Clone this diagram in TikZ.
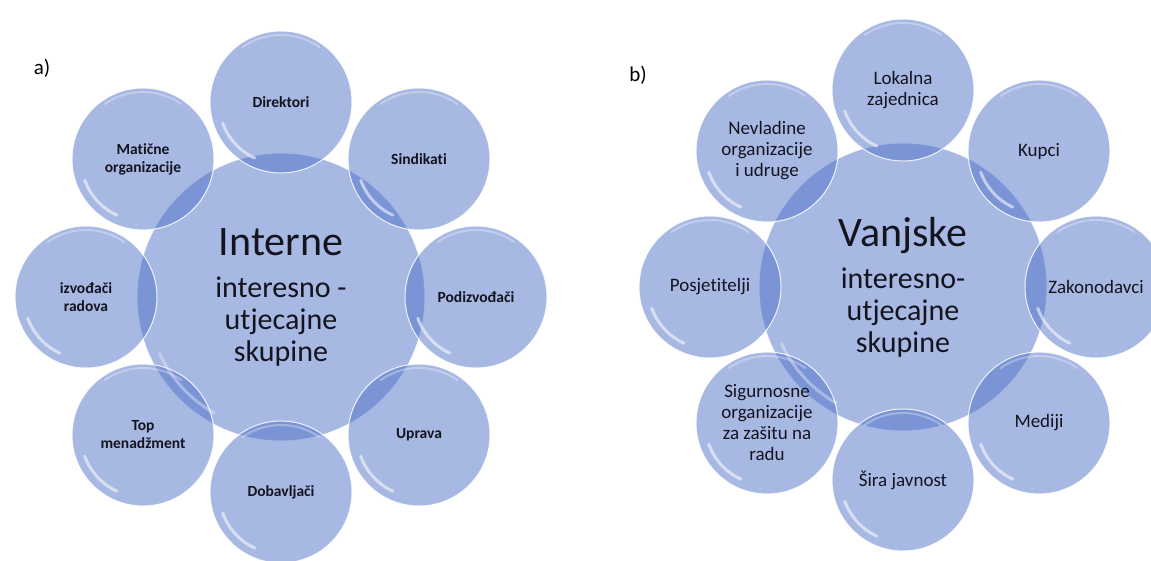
\documentclass[tikz,border=0pt]{standalone}
\usepackage{fontspec}
\setmainfont{Carlito}[Ligatures=NoCommon]
\definecolor{bub}{RGB}{79,113,199}
\definecolor{txt}{RGB}{20,20,30}
\begin{document}
\begin{tikzpicture}[x=1pt,y=1pt,
  bubble/.style={circle, inner sep=0pt, fill=bub, fill opacity=0.5, text opacity=1, draw=white, draw opacity=0.85, line width=1pt, align=center, text=txt},
  sat/.style={bubble, minimum size=142pt},
  satL/.style={sat, font=\fontsize{15.5}{18}\selectfont\bfseries},
  satR/.style={sat, font=\fontsize{19}{21}\selectfont},
  hub/.style={bubble, minimum size=288pt, font=\fontsize{30}{32}\selectfont},
  glint/.style={white, line cap=round, opacity=0.55},
  tag/.style={font=\fontsize{21}{24}\selectfont, text=black}
]
\useasboundingbox (0,0) rectangle (1151,560);

% ---------- a) ----------
\node[tag] (ta) at (42,492) {a)};
\node[hub] (hubL) at (281,263) {{\fontsize{42}{46}\selectfont Interne}\\[10pt]interesno -\\utjecajne\\skupine};
\node[satL] (dir) at (281,458) {Direktori};
\node[satL] (sin) at (419,401) {Sindikati};
\node[satL] (pod) at (476,263) {Podizvođači};
\node[satL] (upr) at (419,125) {Uprava};
\node[satL] (dob) at (281,68) {Dobavljači};
\node[satL] (top) at (143,125) {Top\\menadžment};
\node[satL] (izv) at (86,263) {izvođači\\radova};
\node[satL] (mat) at (143,401) {Matične\\organizacije};

% ---------- b) ----------
\node[tag] (tb) at (638,485) {b)};
\node[hub] (hubR) at (903,273) {{\fontsize{42}{46}\selectfont Vanjske}\\[10pt]interesno-\\utjecajne\\skupine};
\node[satR] (lok) at (903,470) {Lokalna\\zajednica};
\node[satR] (kup) at (1039,409) {Kupci};
\node[satR] (zak) at (1096,273) {Zakonodavci};
\node[satR] (med) at (1039,137) {Mediji};
\node[satR] (sir) at (903,80) {Šira javnost};
\node[satR] (sig) at (767,137) {Sigurnosne\\organizacije\\za zašitu na\\radu};
\node[satR] (pos) at (710,273) {Posjetitelji};
\node[satR] (nev) at (767,409) {Nevladine\\organizacije\\i udruge};

% ---------- glossy highlights ----------
\foreach \n in {dir,sin,pod,upr,dob,top,izv,mat,lok,kup,zak,med,sir,sig,pos,nev} {
  \draw[glint, line width=3pt] (\n.center) ++(200:62) arc[start angle=200, end angle=245, radius=62];
  \draw[glint, line width=2pt, opacity=0.3] (\n.center) ++(55:67) arc[start angle=55, end angle=125, radius=67];
}
\foreach \n in {hubL,hubR} {
  \draw[glint, line width=3pt, opacity=0.35] (\n.center) ++(205:134) arc[start angle=205, end angle=240, radius=134];
}
\end{tikzpicture}
\end{document}
